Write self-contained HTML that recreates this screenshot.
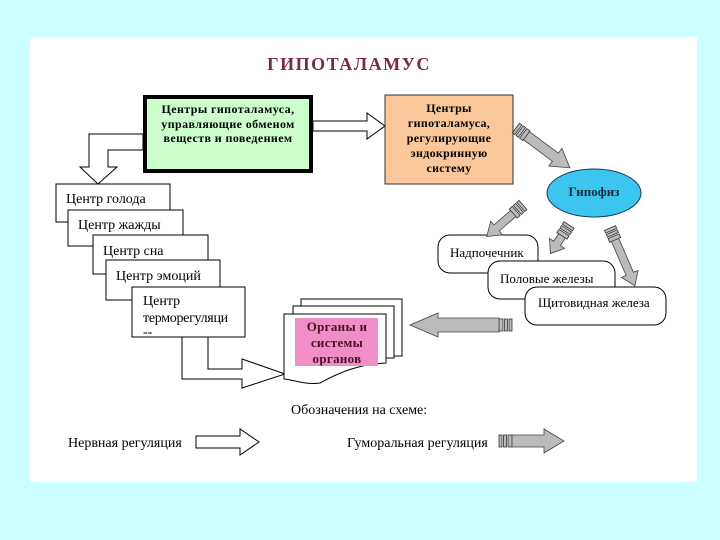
<!DOCTYPE html>
<html><head><meta charset="utf-8"><style>
html,body{margin:0;padding:0;background:#ccffff;}
svg{display:block;}
text{font-family:"Liberation Serif","DejaVu Serif",serif;fill:#000;}
.b{font-weight:bold;}
</style></head><body>
<svg width="720" height="540" viewBox="0 0 720 540" xmlns="http://www.w3.org/2000/svg">
<defs>
<g id="ga">
 <rect x="0" y="-6" width="3" height="12" fill="#bbb" stroke="#333" stroke-width="0.8"/>
 <rect x="4.5" y="-6" width="3" height="12" fill="#bbb" stroke="#333" stroke-width="0.8"/>
 <rect x="9" y="-6" width="4" height="12" fill="#bbb" stroke="#333" stroke-width="0.8"/>
</g>
</defs>
<rect x="30" y="37" width="667" height="445" fill="#fff"/>
<text x="349" y="70" text-anchor="middle" class="b" font-size="18" letter-spacing="1.5" style="fill:#7a2a45">ГИПОТАЛАМУС</text>

<rect x="145" y="97" width="166" height="74" fill="#ccffcc" stroke="#000" stroke-width="4"/>
<g text-anchor="middle" font-size="12" letter-spacing="0.4">
<text x="228" y="113" class="b">Центры гипоталамуса,</text>
<text x="228" y="128" class="b">управляющие обменом</text>
<text x="228" y="142" class="b">веществ и поведением</text>
</g>

<polygon points="313,121 367,121 367,113 385,126 367,139 367,131 313,131" fill="#fff" stroke="#000" stroke-width="1"/>
<polygon points="143,134 89,134 89,167 80,167 98,184 117,167 108,167 108,150 143,150" fill="#fff" stroke="#000" stroke-width="1"/>

<rect x="385" y="95" width="128" height="89" fill="#fac79b" stroke="#333" stroke-width="1"/>
<g font-size="12" text-anchor="middle" letter-spacing="0.3">
<text x="449" y="112" class="b">Центры</text>
<text x="449" y="127" class="b">гипоталамуса,</text>
<text x="449" y="142" class="b">регулирующие</text>
<text x="449" y="157" class="b">эндокринную</text>
<text x="449" y="172" class="b">систему</text>
</g>

<g font-size="14">
<rect x="56" y="184" width="114" height="38" fill="#fff" stroke="#000"/>
<text x="66" y="203">Центр голода</text>
<rect x="68" y="210" width="115" height="36" fill="#fff" stroke="#000"/>
<text x="78" y="229">Центр жажды</text>
<rect x="93" y="235" width="115" height="39" fill="#fff" stroke="#000"/>
<text x="103" y="255">Центр сна</text>
<rect x="106" y="260" width="114" height="40" fill="#fff" stroke="#000"/>
<text x="116" y="280">Центр эмоций</text>
<rect x="132" y="287" width="113" height="50" fill="#fff" stroke="#000"/>
<text x="143" y="305">Центр</text>
<text x="143" y="322" letter-spacing="-0.3">терморегуляци</text>
<text x="143" y="336">--</text>
</g>

<polygon points="182,337 182,379 242,379 242,388 285,374 242,359 242,369 208,369 208,337" fill="#fff" stroke="#000"/>

<rect x="301" y="299" width="101" height="57" fill="#fff" stroke="#000"/>
<rect x="293" y="306" width="101" height="52" fill="#fff" stroke="#000"/>
<path d="M284,314 L386,314 L386,363 C360,364 340,372 320,383 C305,385 295,380 284,379 Z" fill="#fff" stroke="#000"/>
<rect x="295" y="318" width="83" height="48" fill="#f08ec8"/>
<g font-size="13" text-anchor="middle" letter-spacing="0.3">
<text x="337" y="331" class="b" style="fill:#4a1020">Органы и</text>
<text x="337" y="347" class="b" style="fill:#4a1020">системы</text>
<text x="337" y="363" class="b" style="fill:#4a1020">органов</text>
</g>

<ellipse cx="594" cy="193" rx="47" ry="24" fill="#3cc5ef" stroke="#1a3a5a" stroke-width="1"/>
<text x="594" y="196" text-anchor="middle" class="b" font-size="13" style="fill:#1a2a3a">Гипофиз</text>

<g font-size="13">
<rect x="438" y="235" width="100" height="38" rx="12" fill="#fff" stroke="#000"/>
<text x="450" y="257">Надпочечник</text>
<rect x="488" y="261" width="127" height="38" rx="12" fill="#fff" stroke="#000"/>
<text x="500" y="283">Половые железы</text>
<rect x="525" y="287" width="141" height="38" rx="12" fill="#fff" stroke="#000"/>
<text x="538" y="307">Щитовидная железа</text>
</g>

<g transform="translate(516,128) rotate(36.5)">
 <use href="#ga"/>
 <polygon points="13,-5 49,-5 49,-11 67,0 49,11 49,5 13,5" fill="#bbb" stroke="#444" stroke-width="0.8"/>
</g>
<g transform="translate(523,205) rotate(139)">
 <use href="#ga"/>
 <polygon points="13,-4 35,-4 35,-9 48,0 35,9 35,4 13,4" fill="#bbb" stroke="#444" stroke-width="0.8"/>
</g>
<g transform="translate(569,225) rotate(123)">
 <use href="#ga"/>
 <polygon points="13,-4 22,-4 22,-9 34,0 22,9 22,4 13,4" fill="#bbb" stroke="#444" stroke-width="0.8"/>
</g>
<g transform="translate(610,228) rotate(66.7)">
 <use href="#ga"/>
 <polygon points="13,-4 50,-4 50,-9 63,0 50,9 50,4 13,4" fill="#bbb" stroke="#444" stroke-width="0.8"/>
</g>
<g transform="translate(512,325) rotate(180)">
 <use href="#ga"/>
 <polygon points="13,-7 74,-7 74,-12 102,0 74,12 74,7 13,7" fill="#bbb" stroke="#444" stroke-width="0.8"/>
</g>

<g font-size="14">
<text x="291" y="414">Обозначения на схеме:</text>
<text x="68" y="447">Нервная регуляция</text>
<text x="347" y="447">Гуморальная регуляция</text>
</g>
<polygon points="196,436 240,436 240,429 259,442 240,455 240,448 196,448" fill="#fff" stroke="#000"/>
<g transform="translate(499,441)">
 <use href="#ga"/>
 <polygon points="13,-6 45,-6 45,-12 65,0 45,12 45,6 13,6" fill="#bbb" stroke="#444" stroke-width="0.8"/>
</g>
</svg>
</body></html>
